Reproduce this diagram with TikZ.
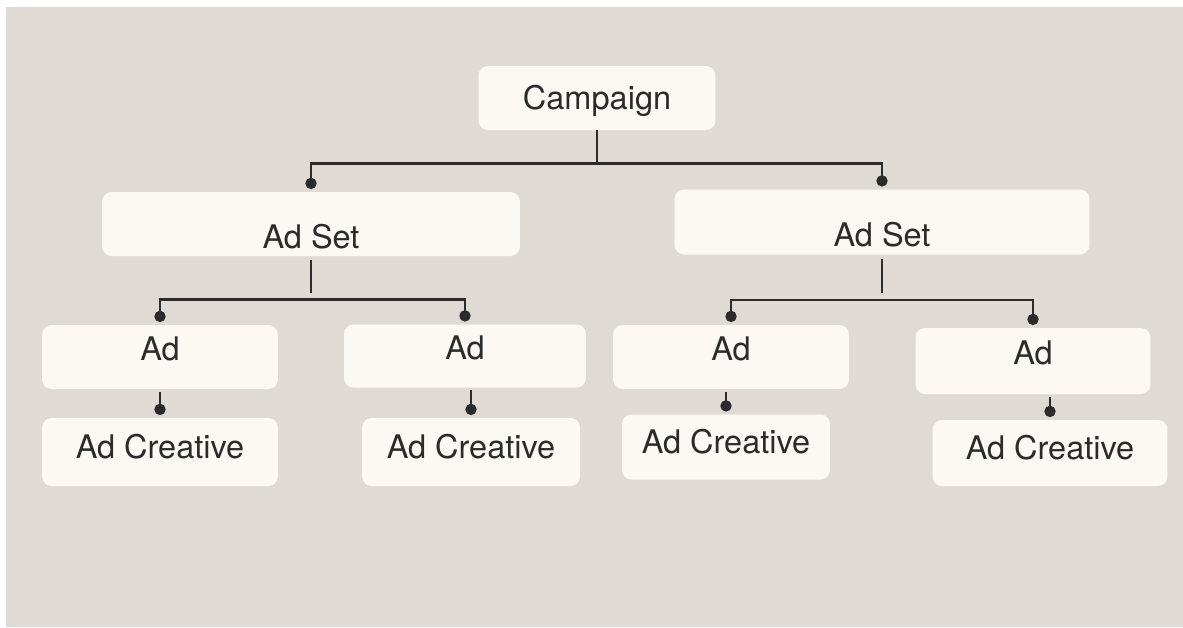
\documentclass[tikz,border=0pt]{standalone}
\usepackage{fontspec}
\setmainfont{TeX Gyre Heros}
\usetikzlibrary{arrows.meta}
\definecolor{paper}{HTML}{DFDBD4}
\definecolor{cardfill}{HTML}{FCF9F4}
\definecolor{ink}{HTML}{2B2B2B}

\begin{document}
\begin{tikzpicture}[x=0.02cm,y=-0.02cm,
   card/.style={fill=cardfill,rounded corners=5.5pt,inner sep=0pt,text=ink,
      font=\fontsize{18.5}{20}\selectfont},
   top/.style={card,text height=17pt,text depth=4pt},
   mid/.style={card,text height=28pt,text depth=0pt},
   leaf/.style={card,text height=13pt,text depth=9pt},
   creative/.style={card,text height=13pt,text depth=5.6pt},
   link/.style={draw=ink,line width=1.45pt},
   dot/.style={-{Circle[length=6.4pt]},shorten >=1.5pt}]
   \fill[white] (0,0) rectangle (1183,627);
   \fill[paper] (6,7) rectangle (1183,627);
   \useasboundingbox (0,0) rectangle (1183,627);

   \node[top,minimum width=4.74cm,minimum height=1.28cm] (camp) at (597,98) {Campaign};
   \node[mid,minimum width=8.36cm,minimum height=1.28cm] (set_l) at (311,224) {Ad Set};
   \node[mid,minimum width=8.3cm,minimum height=1.3cm] (set_r) at (882,222) {Ad Set};
   \node[leaf,minimum width=4.72cm,minimum height=1.28cm] (ad_1) at (160,357) {Ad};
   \node[leaf,minimum width=4.84cm,minimum height=1.26cm] (ad_2) at (465,356) {Ad};
   \node[leaf,minimum width=4.72cm,minimum height=1.28cm] (ad_3) at (731,357) {Ad};
   \node[leaf,minimum width=4.7cm,minimum height=1.32cm] (ad_4) at (1033,361) {Ad};
   \node[creative,minimum width=4.72cm,minimum height=1.36cm] (cr_1) at (160,452) {Ad Creative};
   \node[creative,minimum width=4.36cm,minimum height=1.36cm] (cr_2) at (471,452) {Ad Creative};
   \node[creative,minimum width=4.16cm,minimum height=1.3cm] (cr_3) at (726,447) {Ad Creative};
   \node[creative,minimum width=4.7cm,minimum height=1.32cm] (cr_4) at (1050,453) {Ad Creative};

   \draw[link] (camp.south) -- ++(0,33) coordinate (bus_0);
   \draw[link,dot] (bus_0) -| (set_l.north);
   \draw[link,dot] (bus_0) -| (set_r.north);

   \draw[link] (set_l.south) ++(0,4) -- ++(0,33);
   \draw[link] (set_r.south) ++(0,4) -- ++(0,34);
   \path (set_l.south) ++(0,43) coordinate (bus_l)
         (set_r.south) ++(0,45) coordinate (bus_r);
   \draw[link,dot] (bus_l) -| (ad_1.north);
   \draw[link,dot] (bus_l) -| (ad_2.north);
   \draw[link,dot] (bus_r) -| (ad_3.north);
   \draw[link,dot] (bus_r) -| (ad_4.north);

   \draw[link,dot] ([yshift=-1.5pt]ad_1.south -| cr_1.north) -- (cr_1.north);
   \draw[link,dot] ([yshift=-1.5pt]ad_2.south -| cr_2.north) -- (cr_2.north);
   \draw[link,dot] ([yshift=-1.5pt]ad_3.south -| cr_3.north) -- (cr_3.north);
   \draw[link,dot] ([yshift=-1.5pt]ad_4.south -| cr_4.north) -- (cr_4.north);
\end{tikzpicture}
\end{document}
